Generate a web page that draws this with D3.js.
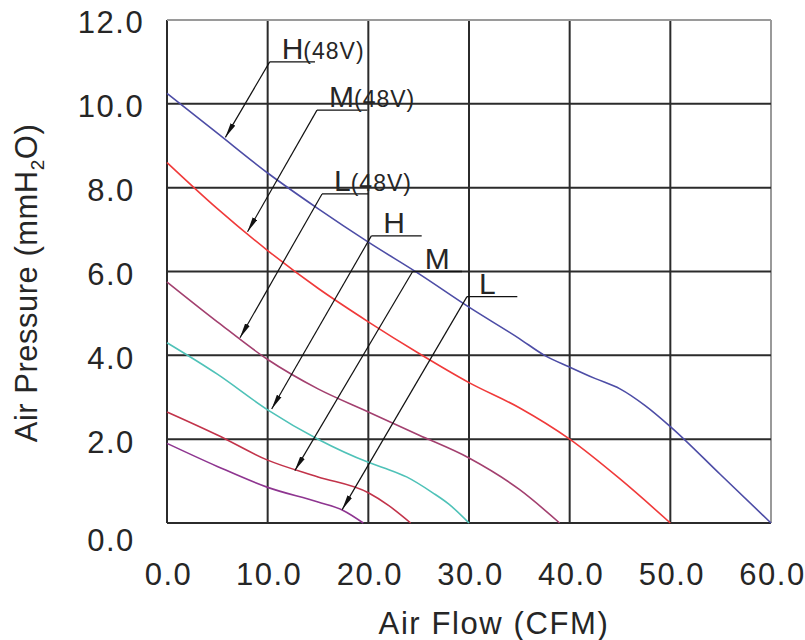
<!DOCTYPE html>
<html>
<head>
<meta charset="utf-8">
<script src="https://cdn.jsdelivr.net/npm/d3@7"></script>
<style>
body { margin: 0; background: #fff; }
text { font-family: Arial, "Liberation Sans", sans-serif; fill: #262626; }
</style>
</head>
<body>
<svg id="chart" width="805" height="640"></svg>
<script>
// tick values
var flow_ticks = [0, 10, 20, 30, 40, 50, 60];
var pressure_ticks = [0, 2, 4, 6, 8, 10, 12];

// P-Q curves, [CFM, mmH2O]
var curve_h48 = [[0,10.25],[5,9.3],[10,8.35],[15,7.5],[20,6.7],[25,5.95],[30,5.15],[35,4.4],[37.5,4.0],[40,3.72],[42.5,3.45],[45,3.2],[47.5,2.8],[50,2.3],[55,1.15],[60,0]];
var curve_m48 = [[0,8.6],[5,7.5],[10,6.5],[15,5.6],[20,4.8],[25,4.05],[30,3.35],[35,2.75],[40,2.0],[45,1.05],[50,0]];
var curve_l48 = [[0,5.75],[5,4.8],[10,3.9],[15,3.2],[20,2.65],[25,2.1],[30,1.55],[35,0.8],[39,0]];
var curve_h = [[0,4.3],[5,3.55],[10,2.7],[15,2.0],[20,1.45],[21.5,1.32],[23.8,1.1],[26.4,0.72],[28,0.45],[30,0]];
var curve_m = [[0,2.65],[5,2.1],[10,1.5],[15,1.1],[20,0.72],[22,0.42],[24.2,0]];
var curve_l = [[0,1.9],[5,1.35],[10,0.85],[15,0.5],[17.5,0.3],[19.5,0]];

var curves = [curve_h48, curve_m48, curve_l48, curve_h, curve_m, curve_l];
var curve_colors = ["#4d4da6", "#f03a3a", "#a3406f", "#4fc2b8", "#c2334a", "#8e3590"];

// callouts, in data units
var label_main = ["H", "M", "L", "H", "M", "L"];
var label_suffix = ["(48V)", "(48V)", "(48V)", "", "", ""];
var label_at = [[10.2,11.0],[14.9,9.85],[15.4,7.85],[20.3,6.85],[24.4,6.0],[29.8,5.4]];
var underline_to = [14.7, 19.9, 20.0, 25.3, 29.3, 34.8];
var arrow_tip = [[5.8,9.2],[8.0,6.95],[7.25,4.42],[10.4,2.72],[12.7,1.25],[17.4,0.32]];

var svg = d3.select("#chart");
var x = d3.scaleLinear().domain([0, 60]).range([167, 771]);
var y = d3.scaleLinear().domain([0, 12]).range([523, 20]);
var fmt = d3.format(".1f");

function drawGrid(){
    svg.selectAll("line.vgrid")
    .data(flow_ticks)
    .enter()
    .append("line")
    .attr("class", "vgrid")
    .attr("x1", d => x(d))
    .attr("x2", d => x(d))
    .attr("y1", y(0))
    .attr("y2", y(12))
    .style("stroke", d => d == 60 ? "#9a9a9a" : "#2b2b2b")
    .style("stroke-width", 2);

    svg.selectAll("line.hgrid")
    .data(pressure_ticks)
    .enter()
    .append("line")
    .attr("class", "hgrid")
    .attr("x1", x(0))
    .attr("x2", x(60))
    .attr("y1", d => y(d))
    .attr("y2", d => y(d))
    .style("stroke", d => d == 12 ? "#9a9a9a" : "#2b2b2b")
    .style("stroke-width", 2);
}

function drawAxes(){
    var gx = svg.append("g")
        .attr("transform", "translate(0," + y(0) + ")")
        .call(d3.axisBottom(x).tickValues(flow_ticks).tickFormat(fmt).tickSize(0).tickPadding(40));
    gx.select(".domain").remove();
    gx.attr("font-size", 31).attr("font-family", null);
    gx.selectAll("text").attr("letter-spacing", 1.5).attr("dx", 1);

    var gy = svg.append("g")
        .attr("transform", "translate(" + x(0) + ",0)")
        .call(d3.axisLeft(y).tickValues(pressure_ticks).tickFormat(fmt).tickSize(0));
    gy.select(".domain").remove();
    gy.attr("font-size", 31).attr("font-family", null);
    gy.selectAll("text")
        .attr("x", -56)
        .attr("y", d => d == 0 ? 18 : 3)
        .attr("letter-spacing", 1.5)
        .attr("text-anchor", "middle");

    svg.append("text")
        .attr("x", 494)
        .attr("y", 634)
        .attr("text-anchor", "middle")
        .attr("font-size", 31)
        .attr("letter-spacing", 1.6)
        .text("Air Flow (CFM)");

    var yt = svg.append("text")
        .attr("transform", "translate(37,283) rotate(-90)")
        .attr("text-anchor", "middle")
        .attr("font-size", 31)
        .attr("letter-spacing", 0.5);
    yt.append("tspan").text("Air Pressure (mmH");
    yt.append("tspan").attr("font-size", 19).attr("dy", 7).text("2");
    yt.append("tspan").attr("dy", -7).text("O)");
}

function drawCurves(){
    var line = d3.line()
        .x(d => x(d[0]))
        .y(d => y(d[1]))
        .curve(d3.curveMonotoneX);

    svg.selectAll("path.curve")
    .data(curves)
    .enter()
    .append("path")
    .attr("class", "curve")
    .attr("d", d => line(d))
    .style("fill", "none")
    .style("stroke", (d, i) => curve_colors[i])
    .style("stroke-width", 1.6);
}

function drawCallouts(){
    svg.append("defs").append("marker")
        .attr("id", "tip")
        .attr("markerUnits", "userSpaceOnUse")
        .attr("viewBox", "0 -3 15 6")
        .attr("refX", 15)
        .attr("refY", 0)
        .attr("markerWidth", 15)
        .attr("markerHeight", 6)
        .attr("orient", "auto")
        .append("path")
        .attr("d", "M0,-2.6L15,0L0,2.6Z")
        .style("fill", "#111");

    // underline
    svg.selectAll("line.underline")
    .data(label_at)
    .enter()
    .append("line")
    .attr("class", "underline")
    .attr("x1", d => x(d[0]))
    .attr("x2", (d, i) => x(underline_to[i]))
    .attr("y1", d => y(d[1]))
    .attr("y2", d => y(d[1]))
    .style("stroke", "#111")
    .style("stroke-width", 1.3);

    // leader with arrow
    svg.selectAll("line.leader")
    .data(label_at)
    .enter()
    .append("line")
    .attr("class", "leader")
    .attr("x1", d => x(d[0]))
    .attr("y1", d => y(d[1]))
    .attr("x2", (d, i) => x(arrow_tip[i][0]))
    .attr("y2", (d, i) => y(arrow_tip[i][1]))
    .attr("marker-end", "url(#tip)")
    .style("stroke", "#111")
    .style("stroke-width", 1.2);

    var t = svg.selectAll("text.callout")
    .data(label_at)
    .enter()
    .append("text")
    .attr("class", "callout")
    .attr("x", d => x(d[0]) + 12)
    .attr("y", d => y(d[1]) - 3);
    t.append("tspan").attr("font-size", 30).text((d, i) => label_main[i]);
    t.append("tspan").attr("font-size", 23).attr("letter-spacing", 1)
        .text((d, i) => label_suffix[i]);
}

drawGrid();
drawCurves();
drawCallouts();
drawAxes();
</script>
</body>
</html>
